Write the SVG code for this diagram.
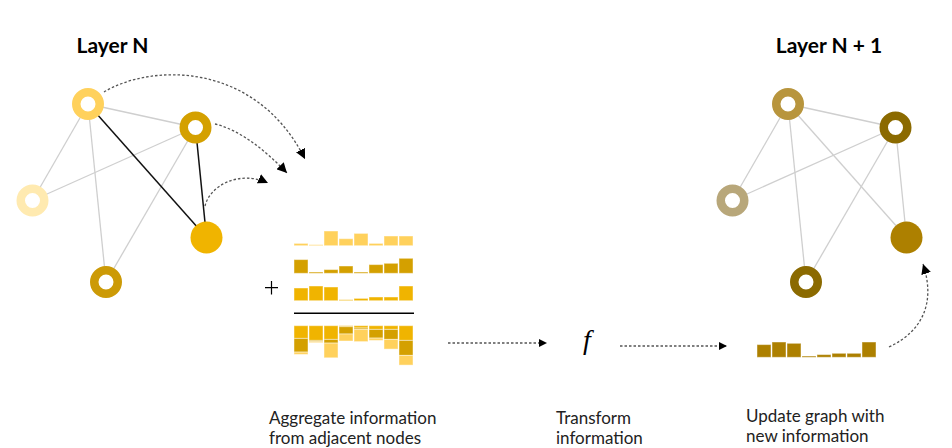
<svg xmlns="http://www.w3.org/2000/svg" width="952" height="448" viewBox="0 0 952 448">
<defs>
<style>
.title{font-family:Lato,"Open Sans","Liberation Sans",sans-serif;font-weight:700;font-size:21px;fill:#000}
.lbl{font-family:Lato,"Open Sans","Liberation Sans",sans-serif;font-weight:400;font-size:17px;fill:#222}
.e{stroke:#cfcfcf;stroke-width:1.3;fill:none}
.k{stroke:#111;stroke-width:1.5;fill:none}
.ring{fill:#fff;stroke-width:8.5}
.dash{fill:none;stroke:#555;stroke-width:1.3;stroke-dasharray:2.5 2}
.b{stroke:#fff;stroke-opacity:0.45;stroke-width:1}
.r1{fill:#FFD15C}.r2{fill:#D4A000}.r3{fill:#F0B400}.rr{fill:#AD8000}
</style>
<marker id="ah" viewBox="0 0 10 10" refX="10" refY="5" markerWidth="10" markerHeight="10" markerUnits="userSpaceOnUse" orient="auto">
<path d="M0,0 L10,5 L0,10 z" fill="#000"/>
</marker>
<marker id="ahs" viewBox="0 0 10 10" refX="10" refY="5" markerWidth="8" markerHeight="10" markerUnits="userSpaceOnUse" orient="auto">
<path d="M0,0 L10,5 L0,10 z" fill="#000"/>
</marker>
</defs>
<rect width="952" height="448" fill="#fff"/>

<text class="title" x="112.5" y="52.7" text-anchor="middle">Layer N</text>
<text class="title" x="829" y="52.7" text-anchor="middle">Layer N + 1</text>

<g id="connectors">
<line class="e" x1="88" y1="104" x2="195.5" y2="127.5"/>
<line class="e" x1="88" y1="104" x2="32.5" y2="200.5"/>
<line class="e" x1="88" y1="104" x2="106" y2="282"/>
<line class="e" x1="195.5" y1="127.5" x2="32.5" y2="200.5"/>
<line class="e" x1="195.5" y1="127.5" x2="106" y2="282"/>
<line class="k" x1="88" y1="104" x2="206.5" y2="237.5"/>
<line class="k" x1="195.5" y1="127.5" x2="206.5" y2="237.5"/>
<line class="e" x1="788" y1="104" x2="895.5" y2="127.5"/>
<line class="e" x1="788" y1="104" x2="732.5" y2="200.5"/>
<line class="e" x1="788" y1="104" x2="806" y2="282"/>
<line class="e" x1="788" y1="104" x2="906.5" y2="237.5"/>
<line class="e" x1="895.5" y1="127.5" x2="732.5" y2="200.5"/>
<line class="e" x1="895.5" y1="127.5" x2="806" y2="282"/>
<line class="e" x1="895.5" y1="127.5" x2="906.5" y2="237.5"/>
<path class="dash" d="M104,92 C150,64 255,60 305,159" marker-end="url(#ah)"/>
<path class="dash" d="M215,124 C240,130 265,150 287,173" marker-end="url(#ah)"/>
<path class="dash" d="M205,206 C210,185 240,170 268,183" marker-end="url(#ah)"/>
<path class="dash" d="M448,343 L547,343" stroke="#666" stroke-width="1.6" stroke-dasharray="3 1.8" marker-end="url(#ahs)"/>
<path class="dash" d="M620,346 L727,346" stroke="#111" stroke-width="1" marker-end="url(#ahs)"/>
<path class="dash" d="M889,347 C925,330 935,300 923,264" marker-end="url(#ah)"/>
</g>

<g id="nodeA"><circle class="ring" cx="88" cy="104" r="11.75" stroke="#FFD15C"/></g>
<g id="nodeB"><circle class="ring" cx="195.5" cy="127.5" r="11.75" stroke="#D4A000"/></g>
<g id="nodeC"><circle class="ring" cx="32.5" cy="200.5" r="11.75" stroke="#FFEAB0"/></g>
<g id="nodeD"><circle cx="206.5" cy="237.5" r="16" fill="#F0B400"/></g>
<g id="nodeE"><circle class="ring" cx="106" cy="282" r="11.75" stroke="#CC9A06"/></g>

<g id="nodeA2"><circle class="ring" cx="788" cy="104" r="11.75" stroke="#B8953D"/></g>
<g id="nodeB2"><circle class="ring" cx="895.5" cy="127.5" r="11.75" stroke="#8B6A00"/></g>
<g id="nodeC2"><circle class="ring" cx="732.5" cy="200.5" r="11.75" stroke="#B8A77A"/></g>
<g id="nodeD2"><circle cx="906.5" cy="237.5" r="16" fill="#AD8000"/></g>
<g id="nodeE2"><circle class="ring" cx="806" cy="282" r="11.75" stroke="#8B6A00"/></g>

<g id="aggregate">
<g class="b r1">
<rect x="294" y="243.4" width="14" height="2.3"/>
<rect x="309" y="244.7" width="14" height="1"/>
<rect x="324" y="231" width="14" height="14.7"/>
<rect x="339" y="238.7" width="14" height="7"/>
<rect x="354" y="233.4" width="14" height="12.3"/>
<rect x="369" y="243.4" width="14" height="2.3"/>
<rect x="384" y="236" width="14" height="9.7"/>
<rect x="399" y="236" width="14" height="9.7"/>
</g>
<g class="b r2">
<rect x="294" y="259.6" width="14" height="13.7"/>
<rect x="309" y="272" width="14" height="1.3"/>
<rect x="324" y="269.6" width="14" height="3.7"/>
<rect x="339" y="266" width="14" height="7.3"/>
<rect x="354" y="272" width="14" height="1.3"/>
<rect x="369" y="264.6" width="14" height="8.7"/>
<rect x="384" y="263.3" width="14" height="10"/>
<rect x="399" y="258.3" width="14" height="15"/>
</g>
<g class="b r3">
<rect x="294" y="288" width="14" height="12.7"/>
<rect x="309" y="286" width="14" height="14.7"/>
<rect x="324" y="287" width="14" height="13.7"/>
<rect x="339" y="299.7" width="14" height="1"/>
<rect x="354" y="298.4" width="14" height="2.3"/>
<rect x="369" y="297" width="14" height="3.7"/>
<rect x="384" y="297" width="14" height="3.7"/>
<rect x="399" y="286" width="14" height="14.7"/>
</g>
<path d="M265,287.7 H278 M271.5,281 V294.4" stroke="#000" stroke-width="1.2" fill="none"/>
<line x1="294" y1="313.3" x2="414" y2="313.3" stroke="#000" stroke-width="1.4"/>
<g class="b r3">
<rect x="294" y="325.7" width="14" height="12.7"/>
<rect x="309" y="325.7" width="14" height="14.7"/>
<rect x="324" y="325.7" width="14" height="13.7"/>
<rect x="339" y="325.7" width="14" height="1"/>
<rect x="354" y="325.7" width="14" height="2.3"/>
<rect x="369" y="325.7" width="14" height="3.7"/>
<rect x="384" y="325.7" width="14" height="3.7"/>
<rect x="399" y="325.7" width="14" height="14.7"/>
</g>
<g class="b r2">
<rect x="294" y="338.4" width="14" height="13.7"/>
<rect x="309" y="340.4" width="14" height="1.3"/>
<rect x="324" y="339.4" width="14" height="3.7"/>
<rect x="339" y="326.7" width="14" height="7.3"/>
<rect x="354" y="328" width="14" height="1.3"/>
<rect x="369" y="329.4" width="14" height="8.7"/>
<rect x="384" y="329.4" width="14" height="10"/>
<rect x="399" y="340.4" width="14" height="15"/>
</g>
<g class="b r1">
<rect x="294" y="352.1" width="14" height="2.3"/>
<rect x="309" y="341.7" width="14" height="1"/>
<rect x="324" y="343.1" width="14" height="14.7"/>
<rect x="339" y="334" width="14" height="7"/>
<rect x="354" y="329.3" width="14" height="12.3"/>
<rect x="369" y="338.1" width="14" height="2.3"/>
<rect x="384" y="339.4" width="14" height="9.7"/>
<rect x="399" y="355.4" width="14" height="9.7"/>
</g>
</g>

<text x="587" y="349" text-anchor="middle" font-family="'Liberation Serif',serif" font-style="italic" font-size="28" fill="#000">f</text>

<g id="updated" class="b rr">
<rect x="757" y="344.6" width="14" height="12.7"/>
<rect x="772" y="342" width="14" height="15.3"/>
<rect x="787" y="343.3" width="14" height="14"/>
<rect x="802" y="356" width="14" height="1.3"/>
<rect x="817" y="354.6" width="14" height="2.7"/>
<rect x="832" y="353.3" width="14" height="4"/>
<rect x="847" y="353.3" width="14" height="4"/>
<rect x="862" y="342" width="14" height="15.3"/>
</g>

<text class="lbl" x="269" y="424">Aggregate information</text>
<text class="lbl" x="269" y="444">from adjacent nodes</text>
<text class="lbl" x="556" y="424">Transform</text>
<text class="lbl" x="556" y="444">information</text>
<text class="lbl" x="746" y="422">Update graph with</text>
<text class="lbl" x="746" y="442">new information</text>
</svg>
